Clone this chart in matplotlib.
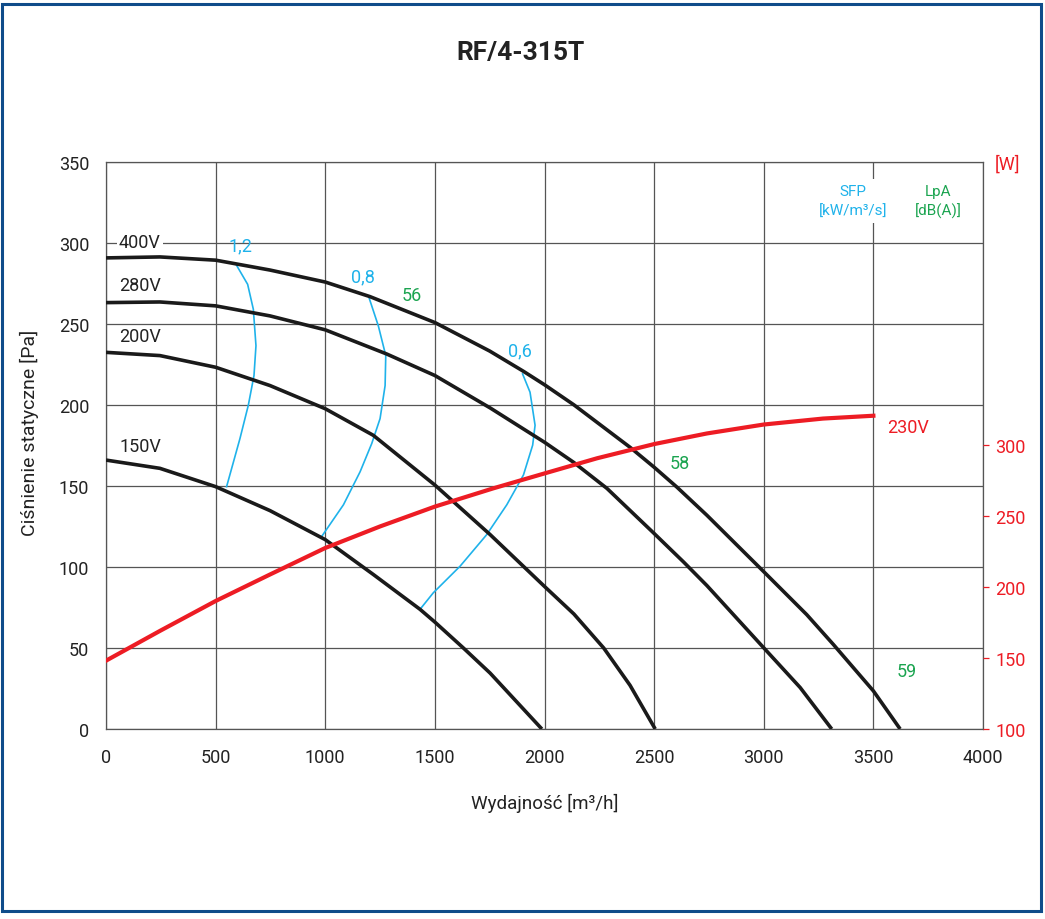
import matplotlib
matplotlib.use("Agg")
import matplotlib.pyplot as plt
from matplotlib.patches import Rectangle

plt.rcParams['font.family'] = ['Roboto', 'DejaVu Sans']

# ---- data ----
title = "RF/4-315T"

q_400 = [0, 246, 500, 748, 1000, 1204, 1500, 1750, 1904, 2000, 2134, 2392, 2500,
         2604, 2741, 3000, 3196, 3318, 3500, 3622]
p_400 = [290.8, 291.4, 289.4, 283.3, 275.9, 266.9, 250.9, 233.3, 220.8, 212.5,
         200.1, 173.7, 161.6, 149.3, 131.9, 97.1, 70.6, 52.1, 23.5, 0]

q_280 = [0, 246, 500, 748, 1000, 1280, 1500, 1752, 2000, 2134, 2285, 2500, 2635,
         2741, 3000, 3166, 3310]
p_280 = [263.2, 263.6, 261.2, 255, 246.4, 231.5, 218.2, 198.2, 177, 164.5, 148.5,
         120.7, 103, 88.5, 50.1, 25.6, 0]

q_200 = [0, 246, 500, 748, 1000, 1219, 1500, 1752, 2000, 2134, 2270, 2390, 2505]
p_200 = [232.5, 230.5, 223.3, 212, 197.7, 181.3, 150.6, 120, 88, 71, 50, 27, 0]

q_150 = [0, 246, 500, 748, 1000, 1219, 1432, 1500, 1630, 1752, 1988]
p_150 = [166, 160.9, 149.6, 134.8, 116.9, 95.4, 73.9, 66, 50, 34.5, 0]

q_pow = [0, 246, 500, 748, 1000, 1250, 1500, 1767, 2000, 2240, 2500, 2741, 3000,
         3270, 3500]
w_pow = [148.2, 169.2, 190.3, 209, 227.7, 242.9, 256.9, 269.8, 280.3, 291,
         301, 308.5, 314.8, 319, 321]

sfp12_q = [596, 646, 672, 684, 675, 649, 611, 550]
sfp12_p = [286.1, 274.5, 259.1, 236.6, 218.2, 199.8, 179.3, 149.6]
sfp08_q = [1201, 1242, 1276, 1273, 1250, 1212, 1159, 1083, 984]
sfp08_p = [265.7, 248.9, 230.5, 212, 191.6, 176.2, 158.8, 138.4, 118.9]
sfp06_q = [1900, 1934, 1957, 1946, 1904, 1828, 1736, 1615, 1493, 1436]
sfp06_p = [219.2, 207.9, 187.5, 175.2, 156.8, 138.4, 119.9, 100.5, 84.1, 74.5]

x_ticks = [0, 500, 1000, 1500, 2000, 2500, 3000, 3500, 4000]
y_ticks = [0, 50, 100, 150, 200, 250, 300, 350]
w_ticks = [100, 150, 200, 250, 300]

BLACK = '#1a1a1a'
RED = '#ed1c24'
BLUE = '#1fb2ea'
GREEN = '#1ba450'
GRID = '#555555'
TXT = '#222222'

fig = plt.figure(figsize=(10.45, 9.2), dpi=100)
ax = fig.add_axes([106/1045, 1 - 730/920, 877/1045, 567/920])

ax.set_xlim(0, 4000)
ax.set_ylim(0, 350)
ax.set_xticks(x_ticks)
ax.set_yticks(y_ticks)
ax.grid(True, color=GRID, lw=0.9)
ax.set_axisbelow(True)
for s in ax.spines.values():
    s.set_color(GRID)
    s.set_linewidth(0.9)
ax.tick_params(axis='both', length=0, labelsize=13, colors=TXT)
ax.tick_params(axis='x', pad=14)
ax.tick_params(axis='y', pad=12)

# fan curves
for q, p in [(q_400, p_400), (q_280, p_280), (q_200, p_200), (q_150, p_150)]:
    ax.plot(q, p, color=BLACK, lw=2.6, solid_capstyle='butt',
            solid_joinstyle='round', zorder=4)

# SFP lines
for q, p in [(sfp12_q, sfp12_p), (sfp08_q, sfp08_p), (sfp06_q, sfp06_p)]:
    ax.plot(q, p, color=BLUE, lw=1.2, solid_joinstyle='round', zorder=3)

# power axis
ax2 = ax.twinx()
ax2.set_ylim(100, 500)
ax2.set_yticks(w_ticks)
ax2.tick_params(axis='y', colors=RED, length=4, width=0.9, labelsize=13, pad=5)
for s in ax2.spines.values():
    s.set_visible(False)
ax2.plot(q_pow, w_pow, color=RED, lw=3.0, solid_joinstyle='round', zorder=5)

# labels
fs = 13
bb = dict(facecolor='white', edgecolor='none', pad=1.5)
for txt, y in [("400V", 300.6), ("280V", 274), ("200V", 242.6), ("150V", 174.7)]:
    ax.text(155, y, txt, ha='center', va='center', fontsize=fs, color=TXT,
            bbox=bb if txt == "400V" else None, zorder=6)

ax.text(611, 298.8, "1,2", ha='center', va='center', fontsize=fs, color=BLUE, zorder=6)
ax.text(1172, 279.6, "0,8", ha='center', va='center', fontsize=fs, color=BLUE, zorder=6)
ax.text(1888, 234, "0,6", ha='center', va='center', fontsize=fs, color=BLUE, zorder=6)
ax.text(1396, 268, "56", ha='center', va='center', fontsize=fs, color=GREEN, zorder=6)
ax.text(2618, 164, "58", ha='center', va='center', fontsize=fs, color=GREEN, zorder=6)
ax.text(3653, 35.8, "59", ha='center', va='center', fontsize=fs, color=GREEN, zorder=6)
ax.text(3658, 186.4, "230V", ha='center', va='center', fontsize=fs, color=RED, zorder=6)

ax.text(3407, 326, "SFP\n[kW/m³/s]", ha='center', va='center', fontsize=11,
        color=BLUE, linespacing=1.45, zorder=6,
        bbox=dict(facecolor='white', edgecolor='none', pad=4))
ax.text(3795, 326, "LpA\n[dB(A)]", ha='center', va='center', fontsize=11,
        color=GREEN, linespacing=1.45, zorder=6)
ax.text(4114, 348.8, "[W]", ha='center', va='center', fontsize=fs, color=RED,
        clip_on=False)

fig.text(520/1045, 1 - 53/920, title, ha='center', va='center',
         fontsize=19, fontweight='bold', color=TXT)
fig.text(545/1045, 1 - 803/920, "Wydajność [m³/h]", ha='center', va='center',
         fontsize=13.5, color=TXT)
fig.text(29/1045, 1 - 433/920, "Ciśnienie statyczne [Pa]", ha='center',
         va='center', rotation=90, fontsize=14, color=TXT)

# frame
fig.patches.append(Rectangle((1.5/1045, 1 - 912/920), 1039.5/1045, 907/920,
                             transform=fig.transFigure, fill=False,
                             edgecolor='#0f4c8a', lw=2.2))

fig.savefig("out.png", dpi=100, facecolor='white')
